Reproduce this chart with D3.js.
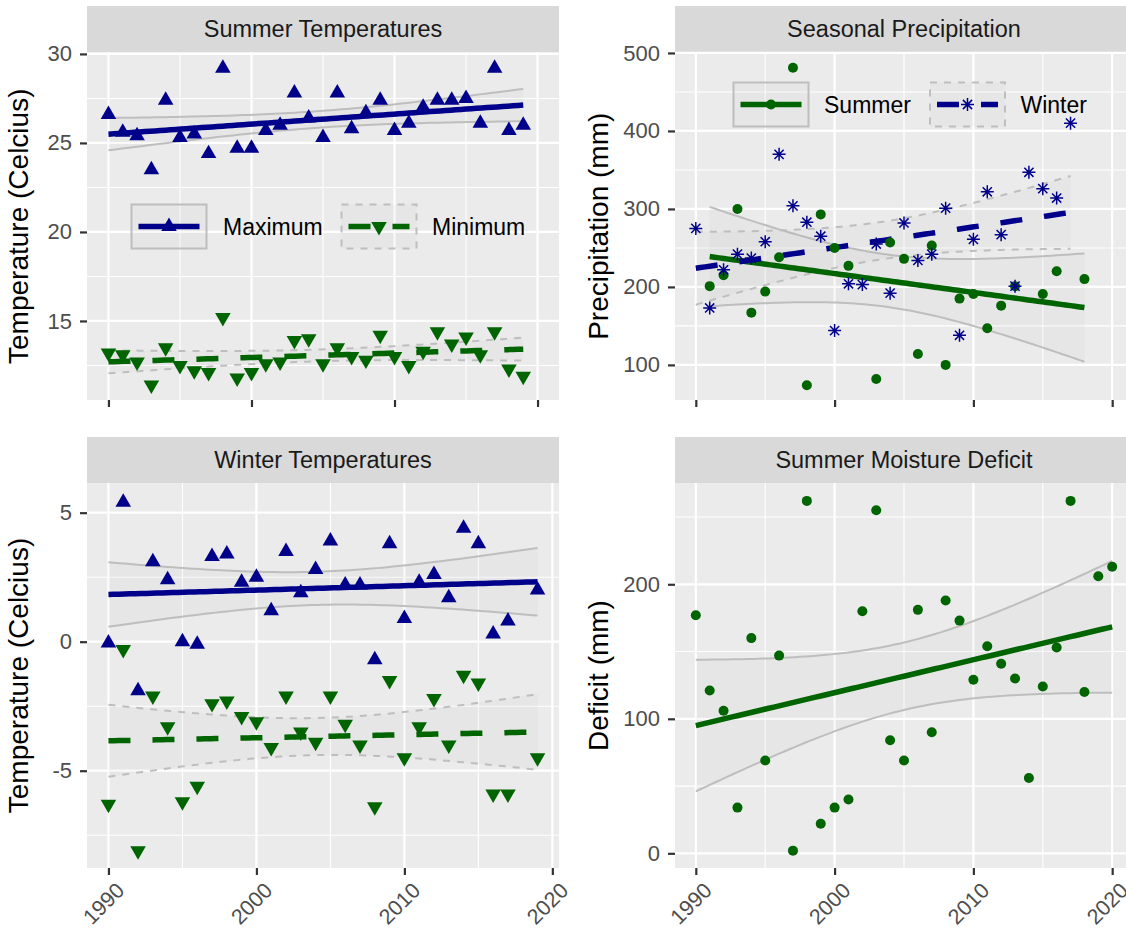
<!doctype html>
<html>
<head>
<meta charset="utf-8">
<script src="https://cdnjs.cloudflare.com/ajax/libs/d3/7.8.5/d3.min.js"></script>
<style>
  body { margin: 0; background: #fff; }
  text { font-family: "Liberation Sans", Arial, sans-serif; }
  path.domain { stroke: none; }
</style>
</head>
<body>
<svg id="chart" width="1126" height="932"></svg>
<script>
// ---- data ----
const tempYears = [1990,1991,1992,1993,1994,1995,1996,1997,1998,1999,2000,2001,2002,2003,2004,
                   2005,2006,2007,2008,2009,2010,2011,2012,2013,2014,2015,2016,2017,2018,2019];
const summerMax = [26.6,25.6,25.4,23.5,27.4,25.3,25.5,24.4,29.2,24.7,24.7,25.7,26.0,27.8,26.4,
                   25.3,27.8,25.8,26.7,27.4,25.7,26.1,27.0,27.4,27.4,27.5,26.1,29.2,25.7,26.0];
const summerMin = [13.2,13.1,12.7,11.4,13.5,12.5,12.2,12.1,15.2,11.8,12.1,12.6,12.7,13.9,14.0,
                   12.6,13.5,13.0,12.8,14.2,13.0,12.5,13.3,14.4,13.7,14.1,13.1,14.4,12.3,11.9];

const winterYears = [1990,1991,1992,1993,1994,1995,1996,1997,1998,1999,2000,2001,2002,2003,2004,
                     2005,2006,2007,2008,2009,2010,2011,2012,2013,2014,2015,2016,2017,2019];
const winterMax = [-0.05,5.4,-1.9,3.1,2.4,0.0,-0.1,3.3,3.4,2.3,2.5,1.2,3.5,1.9,2.8,
                   3.9,2.2,2.2,-0.7,3.8,0.9,2.3,2.6,1.7,4.4,3.8,0.3,0.8,2.0];
const winterMin = [-6.3,-0.3,-8.1,-2.1,-3.3,-6.2,-5.6,-2.4,-2.3,-2.9,-3.1,-4.1,-2.1,-3.5,-3.9,
                   -2.1,-3.2,-4.0,-6.4,-1.5,-4.5,-3.3,-2.2,-4.0,-1.3,-1.6,-5.9,-5.9,-4.5];

const summerPrecipYears = [1991,1992,1993,1994,1995,1996,1997,1998,1999,2000,2001,2003,2004,
                           2005,2006,2007,2008,2009,2010,2011,2012,2013,2015,2016,2018];
const summerPrecip = [201,215,300,167,194,238,481,74,293,250,227,82,257,
                      236,114,253,100,185,191,147,176,201,191,220,210];
const winterPrecipYears = [1990,1991,1992,1993,1994,1995,1996,1997,1998,1999,2000,2001,2002,2003,
                           2004,2005,2006,2007,2008,2009,2010,2011,2012,2013,2014,2015,2016,2017];
const winterPrecip = [275,173,222,242,237,258,370,304,283,265,144,204,203,255,
                      192,282,234,242,301,138,261,322,267,201,347,326,314,410];

const deficitYears = [1990,1991,1992,1993,1994,1995,1996,1997,1998,1999,2000,2001,2002,2003,2004,2005,
                      2006,2007,2008,2009,2010,2011,2012,2013,2014,2015,2016,2017,2018,2019,2020];
const deficit = [177,121,106,34,160,69,147,2,262,22,34,40,180,255,84,69,
                 181,90,188,173,129,154,141,130,56,124,153,262,120,206,213];

const xTicks = [1990, 2000, 2010, 2020];
const xMinor = [1995, 2005, 2015];

const navy = "#00008B", green = "#006400", ciGrey = "#BEBEBE";

const svg = d3.select("#chart");
svg.append("rect").attr("width", 1126).attr("height", 932).attr("fill", "#fff");

// t quantile (0.975) via Cornish-Fisher expansion
function tq(df) {
  const z = 1.959964;
  return z + (z**3 + z) / (4*df) + (5*z**5 + 16*z**3 + 3*z) / (96*df*df)
    + (3*z**7 + 19*z**5 + 17*z**3 - 15*z) / (384*df**3);
}

// linear fit with 95% confidence band, like geom_smooth(method = "lm")
function lmFit(xs, ys) {
  const n = xs.length, mx = d3.mean(xs), my = d3.mean(ys);
  let sxx = 0, sxy = 0;
  xs.forEach((x, i) => { sxx += (x - mx) ** 2; sxy += (x - mx) * (ys[i] - my); });
  const b = sxy / sxx, a = my - b * mx;
  let rss = 0;
  xs.forEach((x, i) => { rss += (ys[i] - a - b * x) ** 2; });
  const s = Math.sqrt(rss / (n - 2)), t = tq(n - 2);
  const lo = d3.min(xs), hi = d3.max(xs);
  return d3.range(81).map(k => {
    const x = lo + (hi - lo) * k / 80, f = a + b * x;
    const se = s * Math.sqrt(1 / n + (x - mx) ** 2 / sxx);
    return { x, f, lo: f - t * se, hi: f + t * se };
  });
}

function marker(sel, shape, color) {
  if (shape === "up" || shape === "down") {
    sel.append("path")
      .attr("d", d3.symbol().type(d3.symbolTriangle).size(105)())
      .attr("transform", shape === "down" ? "rotate(180)" : null)
      .attr("fill", color);
  } else if (shape === "dot") {
    sel.append("circle").attr("r", 5).attr("fill", color);
  } else {
    const r = 6.5, k = r * 0.7071;
    sel.append("path")
      .attr("d", `M${-r},0L${r},0M0,${-r}L0,${r}M${-k},${-k}L${k},${k}M${-k},${k}L${k},${-k}`)
      .attr("stroke", color).attr("stroke-width", 1.5).attr("fill", "none");
  }
}

const panels = [
  { title: "Summer Temperatures", yTitle: "Temperature (Celcius)", titleX: 28,
    x0: 87, x1: 559, top: 52.5, bottom: 400, stripTop: 6,
    xDom: [1988.5, 2021.5], yDom: [10.56, 30.08], yTicks: [15, 20, 25, 30], yMinor: [12.5, 17.5, 22.5, 27.5],
    xLabels: false,
    series: [
      { xs: tempYears, ys: summerMax, color: navy, shape: "up", dash: false },
      { xs: tempYears, ys: summerMin, color: green, shape: "down", dash: true } ],
    legend: { y: 226.5, items: [
      { box: 131.5, label: "Maximum", text: 223 },
      { box: 341.5, label: "Minimum", text: 432 } ] } },
  { title: "Seasonal Precipitation", yTitle: "Precipitation (mm)", titleX: 608,
    x0: 675, x1: 1133, top: 52.5, bottom: 400, stripTop: 6,
    xDom: [1988.5, 2021.5], yDom: [55, 500.6], yTicks: [100, 200, 300, 400, 500], yMinor: [150, 250, 350, 450],
    xLabels: false,
    series: [
      { xs: summerPrecipYears, ys: summerPrecip, color: green, shape: "dot", dash: false },
      { xs: winterPrecipYears, ys: winterPrecip, color: navy, shape: "star", dash: true } ],
    legend: { y: 104.5, items: [
      { box: 733.5, label: "Summer", text: 824 },
      { box: 930, label: "Winter", text: 1020.5 } ] } },
  { title: "Winter Temperatures", yTitle: "Temperature (Celcius)", titleX: 28,
    x0: 87, x1: 559, top: 483, bottom: 868, stripTop: 437,
    xDom: [1988.55, 2020.45], yDom: [-8.77, 6.15], yTicks: [-5, 0, 5], yMinor: [-7.5, -2.5, 2.5],
    xLabels: true,
    series: [
      { xs: winterYears, ys: winterMax, color: navy, shape: "up", dash: false },
      { xs: winterYears, ys: winterMin, color: green, shape: "down", dash: true } ] },
  { title: "Summer Moisture Deficit", yTitle: "Deficit (mm)", titleX: 608,
    x0: 675, x1: 1133, top: 483, bottom: 868, stripTop: 437,
    xDom: [1988.5, 2021.5], yDom: [-10.9, 275.3], yTicks: [0, 100, 200], yMinor: [50, 150, 250],
    xLabels: true,
    series: [
      { xs: deficitYears, ys: deficit, color: green, shape: "dot", dash: false } ] }
];

panels.forEach((p, pi) => {
  const x = d3.scaleLinear().domain(p.xDom).range([p.x0, p.x1]);
  const y = d3.scaleLinear().domain(p.yDom).range([p.bottom, p.top]);
  const g = svg.append("g");

  // strip
  g.append("rect").attr("x", p.x0).attr("y", p.stripTop)
    .attr("width", p.x1 - p.x0).attr("height", p.top - p.stripTop).attr("fill", "#D9D9D9");
  g.append("text").attr("x", (p.x0 + p.x1) / 2).attr("y", (p.stripTop + p.top) / 2)
    .attr("text-anchor", "middle").attr("dominant-baseline", "central")
    .attr("font-size", 23.5).attr("fill", "#1A1A1A").text(p.title);

  // panel background + grid
  g.append("rect").attr("x", p.x0).attr("y", p.top)
    .attr("width", p.x1 - p.x0).attr("height", p.bottom - p.top).attr("fill", "#EBEBEB");
  p.yMinor.forEach(v => g.append("line").attr("x1", p.x0).attr("x2", p.x1)
    .attr("y1", y(v)).attr("y2", y(v)).attr("stroke", "#fff").attr("stroke-width", 1.1));
  xMinor.forEach(v => g.append("line").attr("y1", p.top).attr("y2", p.bottom)
    .attr("x1", x(v)).attr("x2", x(v)).attr("stroke", "#fff").attr("stroke-width", 1.1));
  p.yTicks.forEach(v => g.append("line").attr("x1", p.x0).attr("x2", p.x1)
    .attr("y1", y(v)).attr("y2", y(v)).attr("stroke", "#fff").attr("stroke-width", 2.2));
  xTicks.forEach(v => g.append("line").attr("y1", p.top).attr("y2", p.bottom)
    .attr("x1", x(v)).attr("x2", x(v)).attr("stroke", "#fff").attr("stroke-width", 2.2));

  const clipId = "clip" + pi;
  svg.append("clipPath").attr("id", clipId).append("rect")
    .attr("x", p.x0).attr("y", p.top).attr("width", p.x1 - p.x0).attr("height", p.bottom - p.top);
  const plot = g.append("g").attr("clip-path", `url(#${clipId})`);

  // smooth: ribbon, band edges, fit line
  p.series.forEach(s => {
    const fit = lmFit(s.xs, s.ys);
    plot.append("path").datum(fit)
      .attr("d", d3.area().x(d => x(d.x)).y0(d => y(d.lo)).y1(d => y(d.hi)))
      .attr("fill", "#999").attr("fill-opacity", 0.06);
    ["lo", "hi"].forEach(k => plot.append("path").datum(fit)
      .attr("d", d3.line().x(d => x(d.x)).y(d => y(d[k])))
      .attr("fill", "none").attr("stroke", ciGrey).attr("stroke-width", 2)
      .attr("stroke-dasharray", s.dash ? "7,7" : null));
  });
  p.series.forEach(s => {
    const fit = lmFit(s.xs, s.ys);
    plot.append("path").datum(fit)
      .attr("d", d3.line().x(d => x(d.x)).y(d => y(d.f)))
      .attr("fill", "none").attr("stroke", s.color).attr("stroke-width", 5.5)
      .attr("stroke-dasharray", s.dash ? "22,22" : null);
  });
  p.series.forEach(s => {
    s.xs.forEach((yr, i) => {
      const m = plot.append("g").attr("transform", `translate(${x(yr)},${y(s.ys[i])})`);
      marker(m, s.shape, s.color);
    });
  });

  // axes
  const ya = g.append("g").attr("transform", `translate(${p.x0},0)`)
    .call(d3.axisLeft(y).tickValues(p.yTicks).tickSize(7).tickPadding(8).tickFormat(v => String(v)));
  ya.selectAll(".tick line").attr("stroke", "#333").attr("stroke-width", 2.2);
  ya.selectAll(".tick text").attr("font-size", 22).attr("fill", "#4D4D4D")
    .attr("font-family", "Liberation Sans, Arial, sans-serif");

  const xa = g.append("g").attr("transform", `translate(0,${p.bottom})`)
    .call(d3.axisBottom(x).tickValues(xTicks).tickSize(7).tickFormat(p.xLabels ? (v => String(v)) : ""));
  xa.selectAll(".tick line").attr("stroke", "#333").attr("stroke-width", 2.2);
  if (p.xLabels) {
    xa.selectAll(".tick text")
      .attr("font-size", 21.5).attr("fill", "#4D4D4D")
      .attr("font-family", "Liberation Sans, Arial, sans-serif")
      .attr("text-anchor", "end").attr("y", 0).attr("dy", "0.71em")
      .attr("transform", "translate(6,13) rotate(-45)");
  }

  // axis title
  g.append("text")
    .attr("transform", `translate(${p.titleX},${(p.top + p.bottom) / 2}) rotate(-90)`)
    .attr("text-anchor", "middle").attr("font-size", 28).attr("fill", "#000").text(p.yTitle);

  // legend inside panel
  if (p.legend) {
    p.legend.items.forEach((it, i) => {
      const s = p.series[i];
      const kw = 75, kh = 44, ky = p.legend.y - kh / 2;
      g.append("rect").attr("x", it.box).attr("y", ky).attr("width", kw).attr("height", kh)
        .attr("fill", "#999").attr("fill-opacity", 0.06)
        .attr("stroke", ciGrey).attr("stroke-width", 2)
        .attr("stroke-dasharray", s.dash ? "7,7" : null);
      g.append("line").attr("x1", it.box + 7).attr("x2", it.box + kw - 7)
        .attr("y1", p.legend.y).attr("y2", p.legend.y)
        .attr("stroke", s.color).attr("stroke-width", 5.5)
        .attr("stroke-dasharray", s.dash ? "22,22" : null);
      const m = g.append("g").attr("transform", `translate(${it.box + kw / 2},${p.legend.y})`);
      marker(m, s.shape, s.color);
      g.append("text").attr("x", it.text).attr("y", p.legend.y)
        .attr("dominant-baseline", "central").attr("font-size", 23).attr("fill", "#000")
        .text(it.label);
    });
  }
});
</script>
</body>
</html>
